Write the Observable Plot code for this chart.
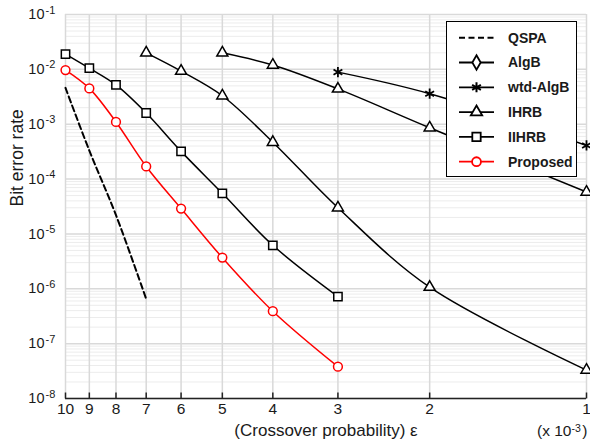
<!DOCTYPE html>
<html><head><meta charset="utf-8">
<script src="https://cdn.jsdelivr.net/npm/d3@7"></script>
<script src="https://cdn.jsdelivr.net/npm/@observablehq/plot@0.6"></script>
<style>
body{margin:0;background:#fff;}
#wrap{position:relative;width:590px;height:448px;font-family:"Liberation Sans",Arial,sans-serif;}
#legend{position:absolute;left:446px;top:21px;width:129px;height:154px;border:1px solid #000;background:#fff;}
</style></head><body><div id="wrap"></div>
<script>
// ---- data ----
const xTicks = [10, 9, 8, 7, 6, 5, 4, 3, 2, 1];
const yExponents = [-1, -2, -3, -4, -5, -6, -7, -8];

const qspaEps = [10, 9, 8, 7];
const qspaBer = [4.6e-3, 3.3e-4, 2.2e-5, 6.5e-7];

const proposedEps = [10, 9, 8, 7, 6, 5, 4, 3];
const proposedBer = [9.7e-3, 4.5e-3, 1.1e-3, 1.7e-4, 2.9e-5, 3.7e-6, 3.9e-7, 3.8e-8];

const iihrbEps = [10, 9, 8, 7, 6, 5, 4, 3];
const iihrbBer = [1.9e-2, 1.05e-2, 5.2e-3, 1.6e-3, 3.2e-4, 5.5e-5, 6.2e-6, 7.2e-7];

const ihrbEps = [7, 6, 5, 4, 3, 2, 1];
const ihrbBer = [2.0e-2, 9.3e-3, 3.3e-3, 4.7e-4, 3.0e-5, 1.07e-6, 3.3e-8];

const ihrbUpperEps = [5, 4, 3, 2, 1];
const ihrbUpperBer = [2.0e-2, 1.2e-2, 4.4e-3, 8.6e-4, 5.8e-5];

const wtdEps = [3, 2, 1];
const wtdBer = [8.9e-3, 3.6e-3, 4.1e-4];

const legendNames = ["QSPA", "AlgB", "wtd-AlgB", "IHRB", "IIHRB", "Proposed"];
const legendSymbols = [null, "diamond", "asterisk", "triangle", "square", "circle"];
const legendColors = ["black", "black", "black", "black", "black", "red"];

// ---- build tables ----
const series = (xs, ys) => xs.map((x, i) => ({eps: x, ber: ys[i]}));
const qspa = series(qspaEps, qspaBer);
const proposed = series(proposedEps, proposedBer);
const iihrb = series(iihrbEps, iihrbBer);
const ihrb = series(ihrbEps, ihrbBer);
const ihrbUpper = series(ihrbUpperEps, ihrbUpperBer);
const wtd = series(wtdEps, wtdBer);

const decades = yExponents.map(e => ({v: Math.pow(10, e), e}));
const minor = [];
for (let e = -8; e < -1; e++) for (let m = 2; m <= 9; m++) minor.push(m * Math.pow(10, e));

const tickMark = {draw(ctx) { ctx.moveTo(0, 0); ctx.lineTo(0, -6); }};

const font = '"Liberation Sans", Arial, sans-serif';
const ink = "#1a1a1a";
const sw = 1.5;

const plot = Plot.plot({
  width: 590, height: 448,
  marginLeft: 65, marginRight: 4, marginTop: 14, marginBottom: 50,
  style: {background: "white", fontFamily: font, color: ink},
  x: {type: "log", domain: [10, 1], axis: null},
  y: {type: "log", domain: [1e-8, 1e-1], axis: null},
  marks: [
    Plot.ruleY(minor, {stroke: "#ececec", strokeWidth: 1}),
    Plot.ruleY(decades, {y: "v", stroke: "#d9d9d9", strokeWidth: 1.5}),
    Plot.ruleX(xTicks, {stroke: "#d9d9d9", strokeWidth: 1.5}),
    Plot.ruleY([1e-8], {stroke: "#222", strokeWidth: 1.5}),
    Plot.dot(xTicks, {x: d => d, y: () => 1e-8, symbol: tickMark, stroke: "#222", strokeWidth: 1.5, fill: "none"}),
    // tick labels
    Plot.text(xTicks, {x: d => d, frameAnchor: "bottom", dy: 15, text: d => String(d), fontSize: 15.5, fill: ink}),
    Plot.text(decades, {y: "v", frameAnchor: "left", dx: -21, textAnchor: "end", text: () => "10", fontSize: 14.5, fill: ink}),
    Plot.text(decades, {y: "v", frameAnchor: "left", dx: -20, dy: -4.5, textAnchor: "start", text: d => String(d.e), fontSize: 11, fill: ink}),
    // axis labels
    Plot.text(["Bit error rate"], {frameAnchor: "left", dx: -48, rotate: -90, fontSize: 17.5, fill: ink}),
    Plot.text(["(Crossover probability) ε"], {frameAnchor: "bottom", dy: 37, fontSize: 17, fill: ink}),
    Plot.text(["(x 10"], {frameAnchor: "bottom-right", dx: -15, dy: 37, textAnchor: "end", fontSize: 15.5, fill: ink}),
    Plot.text(["-3"], {frameAnchor: "bottom-right", dx: -15, dy: 33, textAnchor: "start", fontSize: 10.5, fill: ink}),
    Plot.text([")"], {frameAnchor: "bottom-right", dx: 1, dy: 37, textAnchor: "end", fontSize: 15.5, fill: ink}),
    // series
    Plot.line(qspa, {x: "eps", y: "ber", stroke: "black", strokeWidth: 2, strokeDasharray: "6,3.5", curve: "catmull-rom"}),
    Plot.line(wtd, {x: "eps", y: "ber", stroke: "black", strokeWidth: sw, curve: "catmull-rom"}),
    Plot.line(ihrbUpper, {x: "eps", y: "ber", stroke: "black", strokeWidth: sw, curve: "catmull-rom"}),
    Plot.line(ihrb, {x: "eps", y: "ber", stroke: "black", strokeWidth: sw, curve: "catmull-rom"}),
    Plot.line(iihrb, {x: "eps", y: "ber", stroke: "black", strokeWidth: sw, curve: "catmull-rom"}),
    Plot.line(proposed, {x: "eps", y: "ber", stroke: "red", strokeWidth: sw, curve: "catmull-rom"}),
    Plot.dot(wtd, {x: "eps", y: "ber", symbol: "asterisk", r: 4.8, stroke: "black", strokeWidth: 1.8}),
    Plot.dot(ihrbUpper, {x: "eps", y: "ber", symbol: "triangle", r: 4.1, stroke: "black", fill: "white", strokeWidth: sw}),
    Plot.dot(ihrb, {x: "eps", y: "ber", symbol: "triangle", r: 4.1, stroke: "black", fill: "white", strokeWidth: sw}),
    Plot.dot(iihrb, {x: "eps", y: "ber", symbol: "square", r: 4.7, stroke: "black", fill: "white", strokeWidth: sw}),
    Plot.dot(proposed, {x: "eps", y: "ber", symbol: "circle", r: 4.4, stroke: "red", fill: "white", strokeWidth: sw})
  ]
});
const wrap = document.getElementById("wrap");
wrap.appendChild(plot);

// ---- legend ----
const leg = document.createElement("div");
leg.id = "legend";
wrap.appendChild(leg);
const lsvg = d3.select(leg).append("svg").attr("width", 129).attr("height", 154);
const symMap = {diamond: d3.symbolDiamond, asterisk: d3.symbolAsterisk, triangle: d3.symbolTriangle, square: d3.symbolSquare, circle: d3.symbolCircle};
const symSize = {diamond: 60, asterisk: 72, triangle: 56, square: 70, circle: 62};
legendNames.forEach((name, i) => {
  const y = 15.7 + i * 24.8;
  const g = lsvg.append("g");
  g.append("line").attr("x1", 12).attr("x2", 47).attr("y1", y).attr("y2", y)
    .attr("stroke", legendColors[i]).attr("stroke-width", i === 0 ? 2 : 1.8)
    .attr("stroke-dasharray", i === 0 ? "6,3.5" : null);
  const s = legendSymbols[i];
  if (s) {
    g.append("path").attr("d", d3.symbol(symMap[s], symSize[s])())
      .attr("transform", `translate(29.5,${y})`)
      .attr("fill", s === "asterisk" ? "none" : "white")
      .attr("stroke", legendColors[i]).attr("stroke-width", s === "asterisk" ? 2 : 1.8);
  }
  g.append("text").attr("x", 61).attr("y", y).attr("dy", "0.35em")
    .attr("font-family", font).attr("font-size", 14).attr("font-weight", "bold")
    .attr("fill", ink).text(name);
});
</script></body></html>
